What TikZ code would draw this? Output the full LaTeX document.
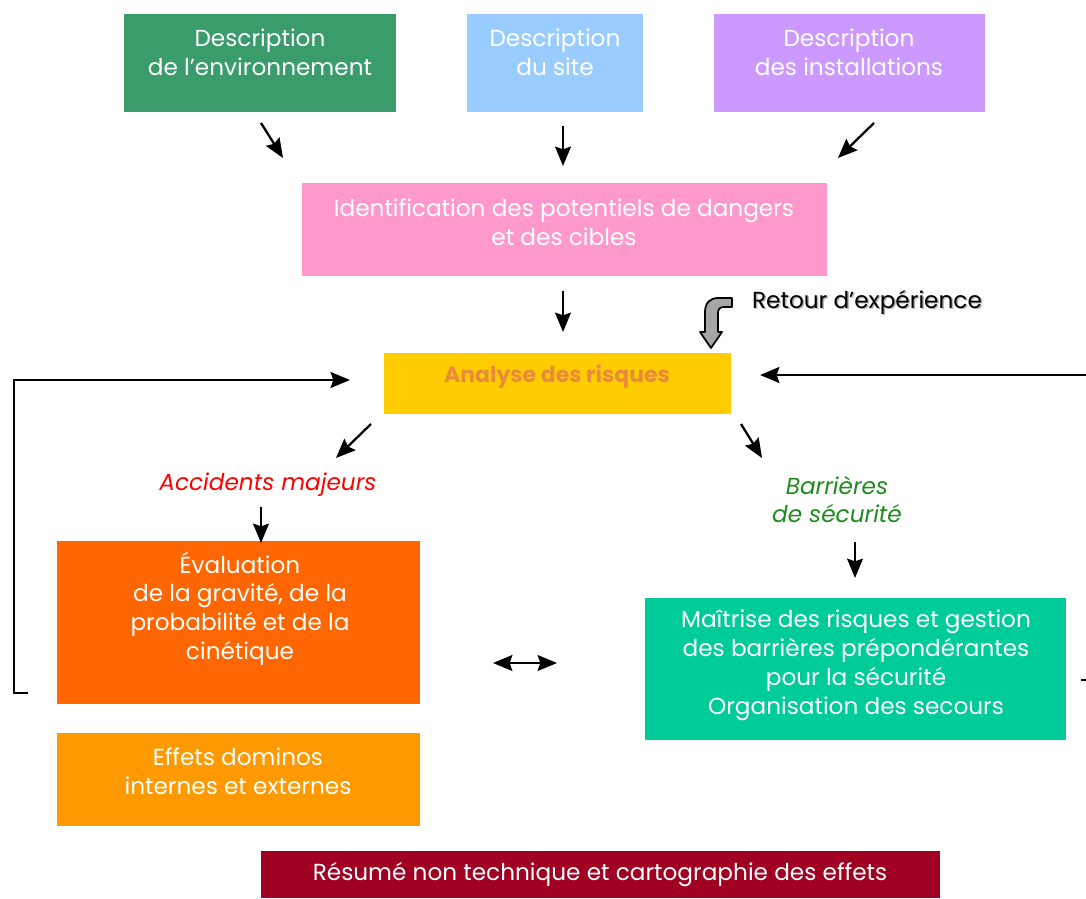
\documentclass[tikz,border=0pt]{standalone}
\usepackage{fontspec}
\setmainfont{Poppins}
\usetikzlibrary{arrows.meta,positioning}
\definecolor{envgreen}{HTML}{3A9B6B}
\definecolor{siteblue}{HTML}{99CCFF}
\definecolor{instpurple}{HTML}{CC99FF}
\definecolor{identpink}{HTML}{FF99CC}
\definecolor{analyseyellow}{HTML}{FFCC00}
\definecolor{analyseorange}{HTML}{E98B3A}
\definecolor{evalorange}{HTML}{FF6600}
\definecolor{dominoorange}{HTML}{FF9900}
\definecolor{maitrisegreen}{HTML}{00CC99}
\definecolor{resumered}{HTML}{A00022}
\definecolor{barriergreen}{HTML}{1E8B1E}

\begin{document}
\begin{tikzpicture}[x=0.02cm,y=-0.02cm,>={Stealth[length=11pt,width=9pt,inset=1.5pt]},arr/.style={->,line width=1.3pt},loop line/.style={line width=1.6pt},box/.style={rectangle,inner sep=0pt,draw=none},txt/.style={font=\fontsize{13.2}{16.4}\selectfont,align=center,text=white,inner sep=0pt}]
	\useasboundingbox (0,0) rectangle (1086,899);

	% boxes
	\node[box,fill=envgreen,minimum width=5.44cm,minimum height=1.96cm] (env) at (260,63) {};
	\node[box,fill=siteblue,minimum width=3.52cm,minimum height=1.96cm] (site) at (555,63) {};
	\node[box,fill=instpurple,minimum width=5.42cm,minimum height=1.96cm] (inst) at (849.5,63) {};
	\node[box,fill=identpink,minimum width=10.5cm,minimum height=1.86cm] (ident) at (564.5,229.5) {};
	\node[box,fill=analyseyellow,minimum width=6.94cm,minimum height=1.22cm] (analyse) at (557.5,383.5) {};
	\node[box,fill=evalorange,minimum width=7.26cm,minimum height=3.26cm] (eval) at (238.5,622.5) {};
	\node[box,fill=dominoorange,minimum width=7.26cm,minimum height=1.86cm] (domino) at (238.5,779.5) {};
	\node[box,fill=maitrisegreen,minimum width=8.42cm,minimum height=2.84cm] (maitrise) at (855.5,669) {};
	\node[box,fill=resumered,minimum width=13.58cm,minimum height=0.94cm] (resume) at (600.5,874.5) {};

	% texts
	\node[txt] (envtxt) at (260,52.5) {Description\\de l’environnement};
	\node[txt] (sitetxt) at (555,52.5) {Description\\du site};
	\node[txt] (insttxt) at (849,52.5) {Description\\des installations};
	\node[txt] (identtxt) at (564,222.5) {Identification des potentiels de dangers\\et des cibles};
	\node[txt,text=analyseorange,font=\fontsize{12.5}{16.4}\selectfont\bfseries] (analysetxt) at (557,377) {Analyse des risques};
	\node[txt] (evaltxt) at (240,608.5) {Évaluation\\de la gravité, de la\\probabilité et de la\\cinétique};
	\node[txt] (dominotxt) at (238,771.5) {Effets dominos\\internes et externes};
	\node[txt] (maitrisetxt) at (856,665.5) {Maîtrise des risques et gestion\\des barrières prépondérantes\\pour la sécurité\\Organisation des secours};
	\node[txt] (resumetxt) at (600,875) {Résumé non technique et cartographie des effets};
	\node[txt,text=red,font=\fontsize{13.2}{16.4}\selectfont\itshape] (accidents) at (268,485) {Accidents majeurs};
	\node[txt,text=barriergreen,font=\fontsize{13.2}{16.4}\selectfont\itshape] (barrieres) at (837,499.5) {Barrières\\de sécurité};
	\node[txt,text=black!30] (retourshadow) at (868.5,303.5) {Retour d’expérience};
	\node[txt,text=black] (retour) at (867,302) {Retour d’expérience};

	% arrow ends
	\coordinate (a1) at (261,123); \coordinate (b1) at (283,158);
	\coordinate (a2) at (563,126); \coordinate (b2) at (563,166);
	\coordinate (a3) at (874,123); \coordinate (b3) at (838,158);
	\coordinate (a4) at (563,291); \coordinate (b4) at (563,332);
	\coordinate (a5) at (371,424); \coordinate (b5) at (336,458);
	\coordinate (a6) at (741,424); \coordinate (b6) at (762,458);
	\coordinate (a7) at (261,507); \coordinate (b7) at (261,543);
	\coordinate (a8) at (855,542); \coordinate (b8) at (855,578);
	\coordinate (a9) at (493,663); \coordinate (b9) at (557,663);
	\coordinate (lstart) at (28,693); \coordinate (lend) at (350,380);
	\coordinate (rstart) at (1086,375); \coordinate (rend) at (760,375);
	\coordinate (tick1) at (1081,680); \coordinate (tick2) at (1086,680);

	\draw[arr] (a1) -- (b1);
	\draw[arr] (a2) -- (b2);
	\draw[arr] (a3) -- (b3);
	\draw[arr] (a4) -- (b4);
	\draw[arr] (a5) -- (b5);
	\draw[arr] (a6) -- (b6);
	\draw[arr] (a7) -- (b7);
	\draw[arr] (a8) -- (b8);
	\draw[arr,<->] (a9) -- (b9);
	\draw[loop line,->] (lstart) -| (14,380) -- (lend);
	\draw[loop line,->] (rstart) -- (rend);
	\draw[loop line] (tick1) -- (tick2);

	% bent grey arrow
	\draw[fill=black!35,line width=1pt,line join=round] (732,298) -- (718,298) .. controls (710,298) and (705,303) .. (705,312) -- (705,332) -- (700,332) -- (711,348) -- (722,332) -- (718,332) -- (718,313) .. controls (718,309) and (720,307) .. (724,307) -- (732,307) -- cycle;
\end{tikzpicture}
\end{document}
